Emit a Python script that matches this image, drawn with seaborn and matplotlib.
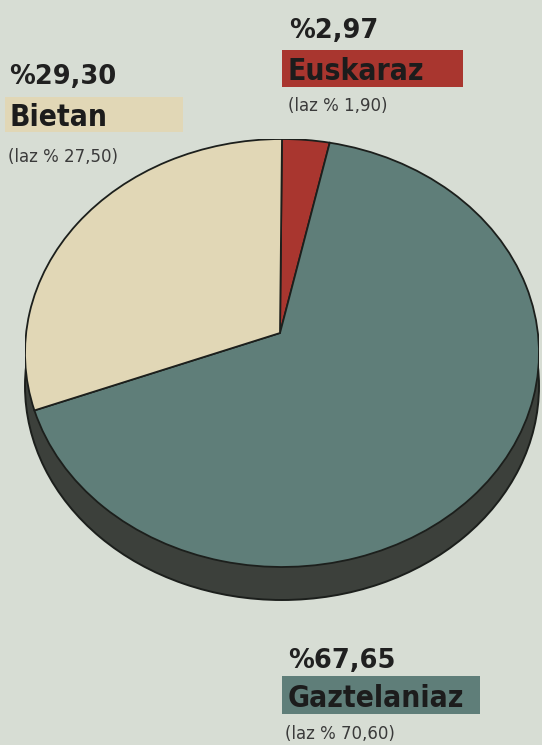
import matplotlib
matplotlib.use("Agg")
import matplotlib.pyplot as plt
import seaborn as sns
import numpy as np
from matplotlib.patches import Rectangle, PathPatch
from matplotlib.path import Path

# ---- data ----
categories = ["Euskaraz", "Gaztelaniaz", "Bietan"]
values = [2.97, 67.65, 29.30]
value_labels = ["%2,97", "%67,65", "%29,30"]
last_year_labels = ["(laz % 1,90)", "(laz % 70,60)", "(laz % 27,50)"]

# ---- style ----
sns.set_theme(style="white")
plt.rcParams["font.family"] = ["DejaVu Sans"]

bg = "#d7ddd4"
colors = ["#a9362f", "#5f7e79", "#e1d7b6"]
dark = "#3c403b"
edge = "#1c1f1c"

W, H = 542, 745
fig = plt.figure(figsize=(W / 100, H / 100), dpi=100, facecolor=bg)

# pie axes (pixel geometry)
left, right, top, bottom = 25, 539, 139, 600
ax = fig.add_axes([left / W, (H - bottom) / H, (right - left) / W, (bottom - top) / H])
ax.set_facecolor(bg)

d = 33 / 214.0  # depth in data units
apex = np.array([-2 / 257.0, 20 / 214.0])  # perspective apex of the slices

# depth (cylinder side)
ax.pie([1], colors=[dark], radius=1, center=(0, -d), startangle=90,
       wedgeprops=dict(edgecolor=edge, linewidth=1.4, zorder=1))
ax.add_patch(Rectangle((-1, -d), 2, d, facecolor=dark, edgecolor="none", zorder=1.5))
ax.plot([-1, -1], [-d, 0], color=edge, lw=1.4, zorder=1.6)
ax.plot([1, 1], [-d, 0], color=edge, lw=1.4, zorder=1.6)

# top face
wedges, _ = ax.pie(values, colors=colors, radius=1, startangle=90, counterclock=False,
                   wedgeprops=dict(edgecolor=edge, linewidth=1.3, zorder=2))
for w in wedges:
    p = w.get_path()
    verts = p.vertices.copy()
    mask = np.all(np.isclose(verts, np.asarray(w.center)), axis=1)
    verts[mask] = apex
    pp = PathPatch(Path(verts, p.codes), facecolor=w.get_facecolor(),
                   edgecolor=edge, linewidth=1.3, zorder=2, joinstyle="miter")
    w.remove()
    ax.add_patch(pp)

ax.set_aspect("auto")
ax.set_xlim(-1.0, 1.0)
ax.set_ylim(-1.0 - d, 1.0)
ax.set_axis_off()


def fx(x):
    return x / W


def fy(y):
    return (H - y) / H


# label layout (pixels): value text pos, box (x0, y0, x1, y1), name pos, last-year pos
layout = {
    "Euskaraz": dict(val=(289, 38), box=(282, 50, 463, 87), lab=(288, 80), prev=(288, 111)),
    "Bietan": dict(val=(9, 84), box=(5, 97, 183, 132), lab=(10, 126), prev=(8, 162)),
    "Gaztelaniaz": dict(val=(288, 668), box=(282, 676, 480, 714), lab=(288, 707), prev=(285, 739)),
}

for cat, col, vlab, plab in zip(categories, colors, value_labels, last_year_labels):
    L = layout[cat]
    x0, y0, x1, y1 = L["box"]
    fig.patches.append(Rectangle((fx(x0), fy(y1)), fx(x1 - x0), (y1 - y0) / H,
                                 transform=fig.transFigure, facecolor=col,
                                 edgecolor="none", zorder=1))
    fig.text(fx(L["val"][0]), fy(L["val"][1]), vlab, fontsize=18.5, fontweight="bold",
             color="#202020", va="baseline", ha="left")
    fig.text(fx(L["lab"][0]), fy(L["lab"][1]), cat, fontsize=21.5, fontweight="bold",
             fontstretch="condensed", color="#1c1c1c", va="baseline", ha="left")
    fig.text(fx(L["prev"][0]), fy(L["prev"][1]), plab, fontsize=12,
             color="#3a3a3a", va="baseline", ha="left")

fig.savefig("out.png", dpi=100, facecolor=bg)
